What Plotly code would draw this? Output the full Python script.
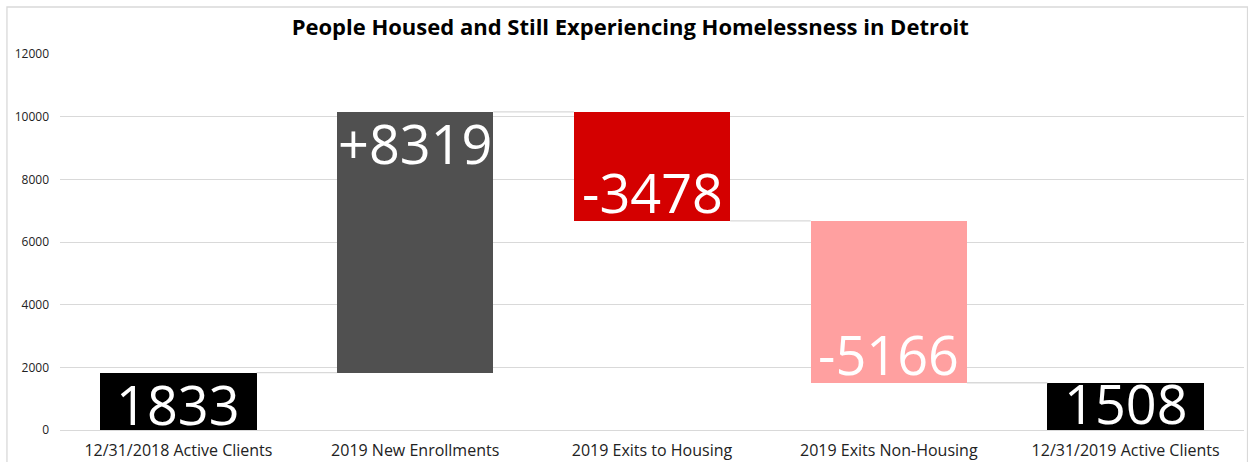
import plotly.graph_objects as go

# Data
categories = [
    "12/31/2018 Active Clients",
    "2019 New Enrollments",
    "2019 Exits to Housing",
    "2019 Exits Non-Housing",
    "12/31/2019 Active Clients",
]
measures = ["absolute", "relative", "relative", "relative", "total"]
changes = [1833, 8319, -3478, -5166, None]
bar_colors = ["#000000", "#505050", "#d40000", "#ffa0a0", "#000000"]

# Running totals -> bar base and signed height
bases, heights, labels = [], [], []
running = 0
for m, v in zip(measures, changes):
    if m == "absolute":
        bases.append(0)
        heights.append(v)
        running = v
        labels.append(f"{v}")
    elif m == "relative":
        bases.append(running)
        heights.append(v)
        running += v
        labels.append(f"{v:+d}")
    else:
        bases.append(0)
        heights.append(running)
        labels.append(f"{running}")

BAR_W = 0.66
# label offsets (px) from the bar end, towards the bar interior
label_offsets = [31, 31, 29, 29, 20]

fig = go.Figure()
fig.add_trace(go.Bar(
    x=list(range(len(categories))),
    y=heights,
    base=bases,
    width=BAR_W,
    marker=dict(color=bar_colors, line=dict(width=0)),
    hoverinfo="skip",
    showlegend=False,
))

shapes = []
# connectors between consecutive bars
for i in range(len(categories) - 1):
    level = bases[i] + heights[i]
    shapes.append(dict(
        type="line", xref="x", yref="y",
        x0=i + BAR_W / 2, x1=i + 1 - BAR_W / 2, y0=level, y1=level,
        line=dict(color="#d9d9d9", width=1.3), layer="above",
    ))
# outer chart frame
shapes.append(dict(
    type="rect", xref="paper", yref="paper",
    x0=-0.0448, x1=1.003, y0=-0.2, y1=1.125,
    line=dict(color="#d9d9d9", width=1.3), fillcolor="rgba(0,0,0,0)",
    layer="below",
))

annotations = []
for i, (b, h, lab) in enumerate(zip(bases, heights, labels)):
    end = b + h
    shift = -label_offsets[i] if h > 0 else label_offsets[i]
    annotations.append(dict(
        x=i, y=end, xref="x", yref="y", text=lab, showarrow=False,
        yanchor="middle", yshift=shift,
        font=dict(family="Open Sans", size=54, color="white"),
    ))

fig.update_layout(
    width=1248, height=462,
    margin=dict(l=60, r=4, t=54, b=32, autoexpand=False),
    paper_bgcolor="white", plot_bgcolor="white",
    title=dict(
        text="<b>People Housed and Still Experiencing Homelessness in Detroit</b>",
        x=0.505, xref="container", xanchor="center",
        y=0.94, yref="container", yanchor="middle",
        font=dict(family="Open Sans", size=22, color="#000000"),
    ),
    bargap=0,
    shapes=shapes,
    annotations=annotations,
    font=dict(family="Open Sans"),
)
fig.update_xaxes(
    tickmode="array", tickvals=list(range(len(categories))), ticktext=categories,
    range=[-0.5, len(categories) - 0.5],
    showgrid=False, zeroline=False, showline=False, ticks="",
    tickfont=dict(family="Open Sans", size=16, color="#222222"),
    ticklabelstandoff=9, automargin=False,
)
fig.update_yaxes(
    range=[0, 12000], dtick=2000, tickformat="d",
    showgrid=True, gridcolor="#d9d9d9", gridwidth=1.3,
    zeroline=True, zerolinecolor="#d9d9d9", zerolinewidth=1.3,
    showline=False, ticks="",
    tickfont=dict(family="Open Sans", size=12, color="#222222"),
    ticklabelstandoff=10, automargin=False,
)

fig.write_html("out.html")
